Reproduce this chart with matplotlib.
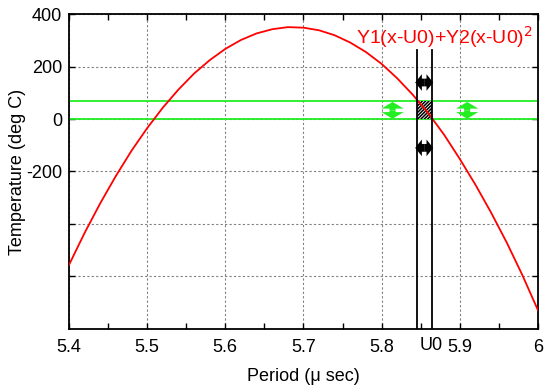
import matplotlib
matplotlib.use('Agg')
import matplotlib.pyplot as plt
from matplotlib.ticker import MultipleLocator
from matplotlib.patches import Rectangle, FancyArrowPatch

plt.rcParams['font.family'] = ['Liberation Sans', 'DejaVu Sans']
plt.rcParams['hatch.linewidth'] = 1.1

# curve
period = [5.40, 5.42, 5.44, 5.46, 5.48, 5.50, 5.52, 5.54, 5.56, 5.58,
          5.60, 5.62, 5.64, 5.66, 5.68, 5.70, 5.72, 5.74, 5.76, 5.78,
          5.80, 5.82, 5.84, 5.86, 5.88, 5.90, 5.92, 5.94, 5.96, 5.98, 6.00]
temp = [-556, -434, -321, -217, -121, -35, 43, 112, 173, 224,
        267, 301, 326, 342, 350, 348, 338, 319, 291, 255,
        210, 155, 92, 21, -60, -152, -250, -356, -470, -594, -728]

band = [0, 70]            # green horizontal lines
u_lines = [5.845, 5.864]  # black vertical lines
u_top = 263
black_arrow_y = [139, -110]
green_arrow_x = [5.814, 5.9095]
yticks = [400, 200, 0, -200, -400, -600]
ylabels = ['400', '200', '0', '-200', '', '']


def double_arrow(ax, p0, p1, color, hl, hw, tw):
    # two filled "simple" arrows pointing outwards from the middle
    mid = ((p0[0] + p1[0]) / 2, (p0[1] + p1[1]) / 2)
    style = 'simple,head_length=%g,head_width=%g,tail_width=%g' % (hl, hw, tw)
    for end in (p0, p1):
        ax.add_patch(FancyArrowPatch(mid, end, arrowstyle=style, mutation_scale=20,
                                     color=color, lw=0, shrinkA=0, shrinkB=0, zorder=5))


fig = plt.figure(figsize=(5.44, 3.87), dpi=100)
ax = fig.add_axes([0.1268, 0.1499, 0.862, 0.8139])

ax.plot(period, temp, color='red', lw=1.3, zorder=3)
for b in band:
    ax.axhline(b, color='#22ee22', lw=1.3, zorder=2)

ax.add_patch(Rectangle((u_lines[0], band[0]), u_lines[1] - u_lines[0], band[1] - band[0],
                       facecolor='white', edgecolor='black', hatch='//////////', lw=0, zorder=2.5))
for u in u_lines:
    ax.plot([u, u], [-800, u_top], color='black', lw=1.3, zorder=4)

for y in black_arrow_y:
    double_arrow(ax, (u_lines[0] - 0.002, y), (u_lines[1] + 0.002, y), 'black', 0.24, 0.6, 0.28)
for x in green_arrow_x:
    double_arrow(ax, (x, band[0] + 1), (x, band[1] - 5), '#22ee22', 0.24, 0.8, 0.22)

ax.text(5.881, 312, 'Y1(x-U0)+Y2(x-U0)$^2$', color='red', fontsize=14,
        ha='center', va='center')
ax.text(5.864, -830, 'U0', fontsize=13, ha='center', va='top')

ax.set_xlim(5.4, 6.0)
ax.set_ylim(-800, 400)
ax.xaxis.set_minor_locator(MultipleLocator(0.05))
ax.set_xticks([5.4, 5.5, 5.6, 5.7, 5.8, 5.9, 6.0])
ax.set_xticklabels(['5.4', '5.5', '5.6', '5.7', '5.8', '5.9', '6'])
ax.set_yticks(yticks)
ax.set_yticklabels(ylabels)
ax.tick_params(which='both', direction='in', top=True, right=True, length=4,
               width=1, labelsize=13)
ax.tick_params(axis='x', pad=7)
ax.tick_params(axis='y', pad=5)
ax.grid(True, which='major', color='gray', ls=(0, (2, 2)), lw=0.8)
for s in ax.spines.values():
    s.set_linewidth(1.3)

ax.set_xlabel('Period (μ sec)', fontsize=13, labelpad=9)
ax.set_ylabel('Temperature (deg C)', fontsize=13, labelpad=0)

fig.savefig('out.png', dpi=100)
